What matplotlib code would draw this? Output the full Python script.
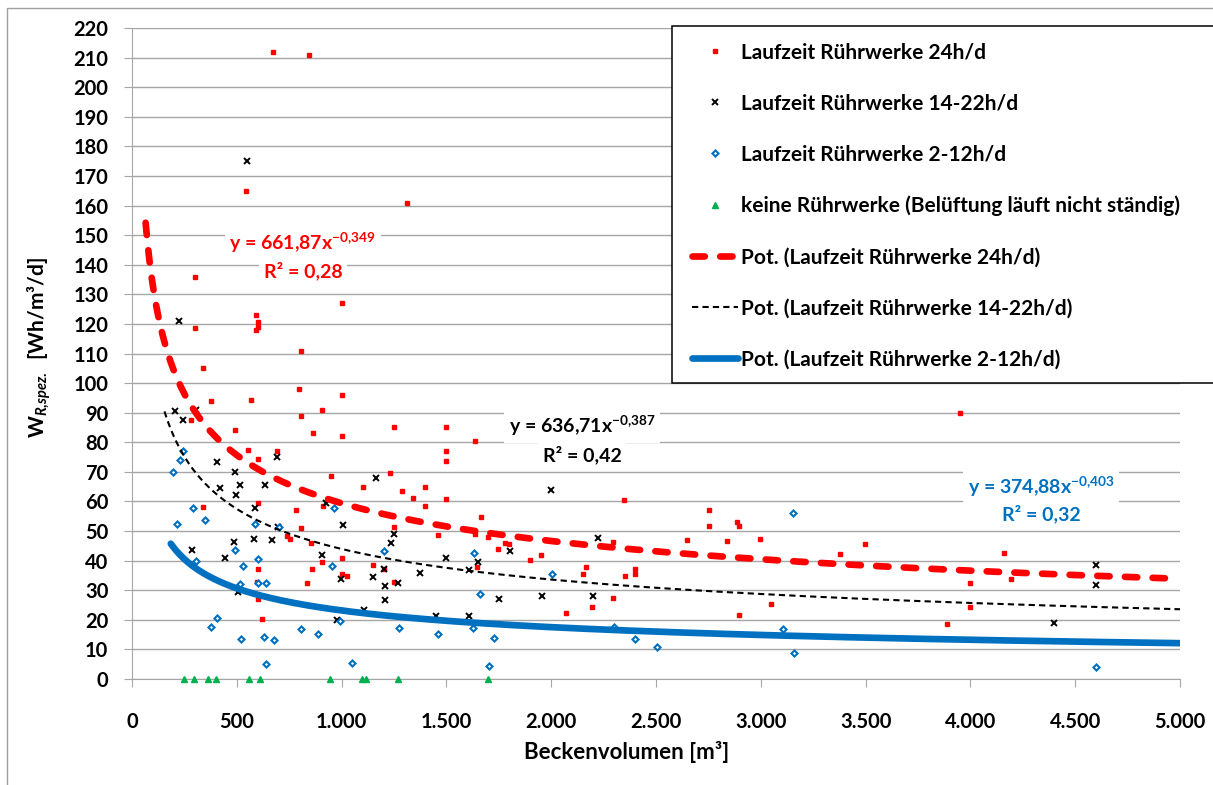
import matplotlib
matplotlib.use("Agg")
import matplotlib.pyplot as plt
from matplotlib.patches import Rectangle
from matplotlib.lines import Line2D
import numpy as np

plt.rcParams["font.family"] = ["Lato", "DejaVu Sans"]
plt.rcParams["font.weight"] = "bold"
plt.rcParams["mathtext.fontset"] = "custom"
plt.rcParams["mathtext.rm"] = "Lato:bold"
plt.rcParams["mathtext.it"] = "Lato:bold:italic"
plt.rcParams["mathtext.bf"] = "Lato:bold"

# Laufzeit Rührwerke 24h/d
RED_X = [671, 843, 543, 1314, 300, 1000, 591, 600, 600, 591, 300, 805, 338, 795, 1000,
         376, 567, 905, 281, 805, 490, 862, 1000, 1248, 552, 690, 600, 948, 1229, 1100,
         1400, 1290, 1343, 1400, 338, 600, 781, 910, 805, 1252, 738, 752, 852, 1000, 905,
         1148, 600, 857, 1200, 1000, 1024, 595, 833, 1252, 600, 619, 1500, 1638, 1500, 1500,
         1500, 1667, 1462, 1638, 1700, 2348, 2752, 2752, 1748, 1781, 1800, 2295, 2648, 1952,
         1900, 1648, 2167, 2152, 2400, 2400, 2352, 2295, 2195, 2071, 3948, 2886, 2896, 2838,
         2995, 3495, 3376, 3048, 2896, 4000, 4000, 3886, 4162, 4195]
RED_Y = [212, 211, 165, 161, 136, 127, 123, 120.5, 119, 118, 118.6, 111, 105, 98, 96,
         94, 94.3, 91, 87.5, 89, 84, 83, 82, 85, 77.4, 77, 74.3, 68.6, 69.6, 65,
         65, 63.5, 61, 58.5, 58, 59.5, 57, 58.5, 51, 51.4, 48.3, 47.3, 46, 41, 39.5,
         38.5, 37.2, 37.2, 37.2, 35.5, 34.8, 32.8, 32.4, 32.8, 27, 20.3, 85.2, 80.4, 77, 73.7,
         60.8, 54.7, 48.7, 49, 48, 60.5, 57.1, 51.7, 43.9, 46, 45.6, 46.3, 47, 41.9,
         40.2, 37.8, 37.8, 35.5, 37.2, 35.5, 34.8, 27.4, 24.3, 22.3, 89.9, 53, 51.7, 46.6,
         47.3, 45.6, 42.2, 25.3, 21.6, 32.4, 24.3, 18.6, 42.6, 33.8]

# Laufzeit Rührwerke 14-22h/d
BLACK_X = [548, 224, 205, 305, 243, 405, 490, 690, 419, 514, 633, 495, 1162, 586, 924,
           1005, 695, 1252, 1238, 486, 581, 667, 286, 443, 905, 1200, 995, 1152, 1376, 1205,
           1267, 1205, 1105, 976, 505, 2000, 2224, 1805, 1500, 1652, 1610, 1752, 1957, 2200,
           1448, 1610, 4600, 4600, 4400]
BLACK_Y = [175, 121, 90.6, 90.9, 87.5, 73.3, 70, 75, 64.5, 65.6, 65.6, 62.2, 67.9, 57.8, 59.5,
           52, 51.4, 49, 46, 46.3, 47.3, 47, 43.6, 40.9, 41.9, 37.2, 33.8, 34.5, 35.8, 31.4,
           32.4, 26.7, 23.3, 19.9, 29.4, 63.9, 47.7, 43.2, 40.9, 39.5, 36.8, 27, 28, 28,
           21.3, 21.3, 38.5, 31.8, 18.9]

# Laufzeit Rührwerke 2-12h/d
BLUE_X = [243, 229, 195, 290, 348, 214, 962, 586, 700, 490, 305, 600, 529, 952, 1200,
          514, 600, 638, 405, 376, 805, 886, 1276, 990, 519, 629, 676, 638, 1052, 1633,
          2005, 1662, 1462, 1629, 1729, 2300, 2400, 2505, 1705, 3152, 3105, 3157, 4600]
BLUE_Y = [77, 74, 70, 57.8, 53.7, 52.4, 57.8, 52.4, 51.4, 43.6, 39.9, 40.6, 38.2, 38.2, 43.2,
          32.1, 32.4, 32.4, 20.6, 17.6, 16.9, 15.2, 17.2, 19.6, 13.5, 14.2, 13.2, 5.1, 5.4, 42.6,
          35.5, 28.7, 15.2, 17.2, 13.9, 17.6, 13.5, 10.8, 4.4, 56.1, 16.9, 8.8, 4.1]

# keine Rührwerke
GREEN_X = [247, 298, 361, 402, 560, 611, 947, 1098, 1117, 1268, 1699]
GREEN_Y = [0, 0, 0, 0, 0, 0, 0, 0, 0, 0, 0]

# Potenz-Trendlinien y = a * x^b (Werte aus dem Diagramm)
TREND_A = [661.87, 636.71, 374.88]
TREND_B = [-0.349, -0.387, -0.403]
TREND_START = [65, 155, 185]
TREND_END = 5000

X_TICKS = [0, 500, 1000, 1500, 2000, 2500, 3000, 3500, 4000, 4500, 5000]
X_TICK_LABELS = ["0", "500", "1.000", "1.500", "2.000", "2.500", "3.000",
                 "3.500", "4.000", "4.500", "5.000"]
Y_TICKS = list(range(0, 221, 10))

LABELS = ["Laufzeit Rührwerke 24h/d",
          "Laufzeit Rührwerke 14-22h/d",
          "Laufzeit Rührwerke 2-12h/d",
          "keine Rührwerke (Belüftung läuft nicht ständig)",
          "Pot. (Laufzeit Rührwerke 24h/d)",
          "Pot. (Laufzeit Rührwerke 14-22h/d)",
          "Pot. (Laufzeit Rührwerke 2-12h/d)"]

RED = "#ff0000"
BLUE = "#0070c0"
GREEN = "#00b050"
GRID = "#a6a6a6"

W, H = 1213, 785
fig = plt.figure(figsize=(W / 100, H / 100), dpi=100)
ax = fig.add_axes([132 / W, 1 - 679 / H, (1180 - 132) / W, (679 - 28) / H])

# scatter series
red_style = dict(ls="none", marker="s", ms=3.4, color=RED, mec=RED)
black_style = dict(ls="none", marker="x", ms=3.8, mew=1.4, color="black")
blue_style = dict(ls="none", marker="D", ms=3.1, mew=1.5, mec=BLUE, mfc="white")
green_style = dict(ls="none", marker="^", ms=5, color=GREEN, mec=GREEN, clip_on=False)

ax.plot(RED_X, RED_Y, zorder=3, **red_style)
ax.plot(BLACK_X, BLACK_Y, zorder=3, **black_style)
ax.plot(BLUE_X, BLUE_Y, zorder=3, **blue_style)
ax.plot(GREEN_X, GREEN_Y, zorder=3, **green_style)

# trend lines
red_trend = dict(color=RED, lw=4.8, dashes=(1.85, 2.3), dash_capstyle="round")
black_trend = dict(color="black", lw=1.5, dashes=(3.0, 2.0))
blue_trend = dict(color=BLUE, lw=4.8, solid_capstyle="round")
for a, b, start, style in zip(TREND_A, TREND_B, TREND_START,
                              [red_trend, black_trend, blue_trend]):
    xs = np.linspace(start, TREND_END, 500)
    ax.plot(xs, a * xs ** b, zorder=4, **style)

# axes
ax.set_xlim(0, 5000)
ax.set_ylim(0, 220)
ax.set_xticks(X_TICKS)
ax.set_xticklabels(X_TICK_LABELS)
ax.set_yticks(Y_TICKS)
ax.yaxis.grid(True, color=GRID, lw=1)
ax.set_axisbelow(True)
for side in ["top", "right"]:
    ax.spines[side].set_visible(False)
ax.spines["left"].set_color(GRID)
ax.spines["bottom"].set_color(GRID)
ax.tick_params(axis="y", length=6, color=GRID, pad=11, labelsize=14.5)
ax.tick_params(axis="x", length=6, color=GRID, pad=18, labelsize=14.5)

fig.text(627 / W, 1 - 752 / H, "Beckenvolumen [m³]", ha="center", va="center", fontsize=16)
fig.text(39 / W, 1 - 348 / H, r"$\mathrm{W}_{R{,}spez.}$  [Wh/m³/d]", rotation=90,
         ha="center", va="center", fontsize=15)

# trend equations
box = dict(boxstyle="square,pad=0.25", fc="white", ec="none")
ax.text(815, 147.5, r"y = 661,87x$^{-0{,}349}$", color=RED, fontsize=14, ha="center", va="center", bbox=box, zorder=5)
ax.text(815, 137.8, "R² = 0,28", color=RED, fontsize=14, ha="center", va="center", bbox=box, zorder=5)
ax.text(2148, 85.5, r"y = 636,71x$^{-0{,}387}$", color="black", fontsize=14, ha="center", va="center", bbox=box, zorder=5)
ax.text(2148, 75.7, "R² = 0,42", color="black", fontsize=14, ha="center", va="center", bbox=box, zorder=5)
ax.text(4337, 64.9, r"y = 374,88x$^{-0{,}403}$", color=BLUE, fontsize=14, ha="center", va="center", bbox=box, zorder=5)
ax.text(4337, 55.7, "R² = 0,32", color=BLUE, fontsize=14, ha="center", va="center", bbox=box, zorder=5)

# legend
handles = [Line2D([], [], **red_style), Line2D([], [], **black_style),
           Line2D([], [], **blue_style), Line2D([], [], **green_style),
           Line2D([], [], **red_trend), Line2D([], [], **black_trend),
           Line2D([], [], **blue_trend)]
ax.add_patch(Rectangle((672 / W, 1 - 383 / H), 0.5, (383 - 26) / H, transform=fig.transFigure,
                       fc="white", ec="black", lw=1.1, clip_on=False, zorder=6))
leg = ax.legend(handles, LABELS, loc="upper left", bbox_to_anchor=(692 / W, 1 - 42.5 / H),
                bbox_transform=fig.transFigure, frameon=False, fontsize=15,
                handlelength=2.21, handletextpad=0.15, labelspacing=1.49,
                borderpad=0, borderaxespad=0)
leg.set_zorder(7)

# chart border
ax.add_patch(Rectangle((7 / W, -0.1), 2, 1.1 - 8 / H, transform=fig.transFigure,
                       fill=False, ec="#a0a0a0", lw=1, clip_on=False, zorder=0))

fig.savefig("out.png", dpi=100)
